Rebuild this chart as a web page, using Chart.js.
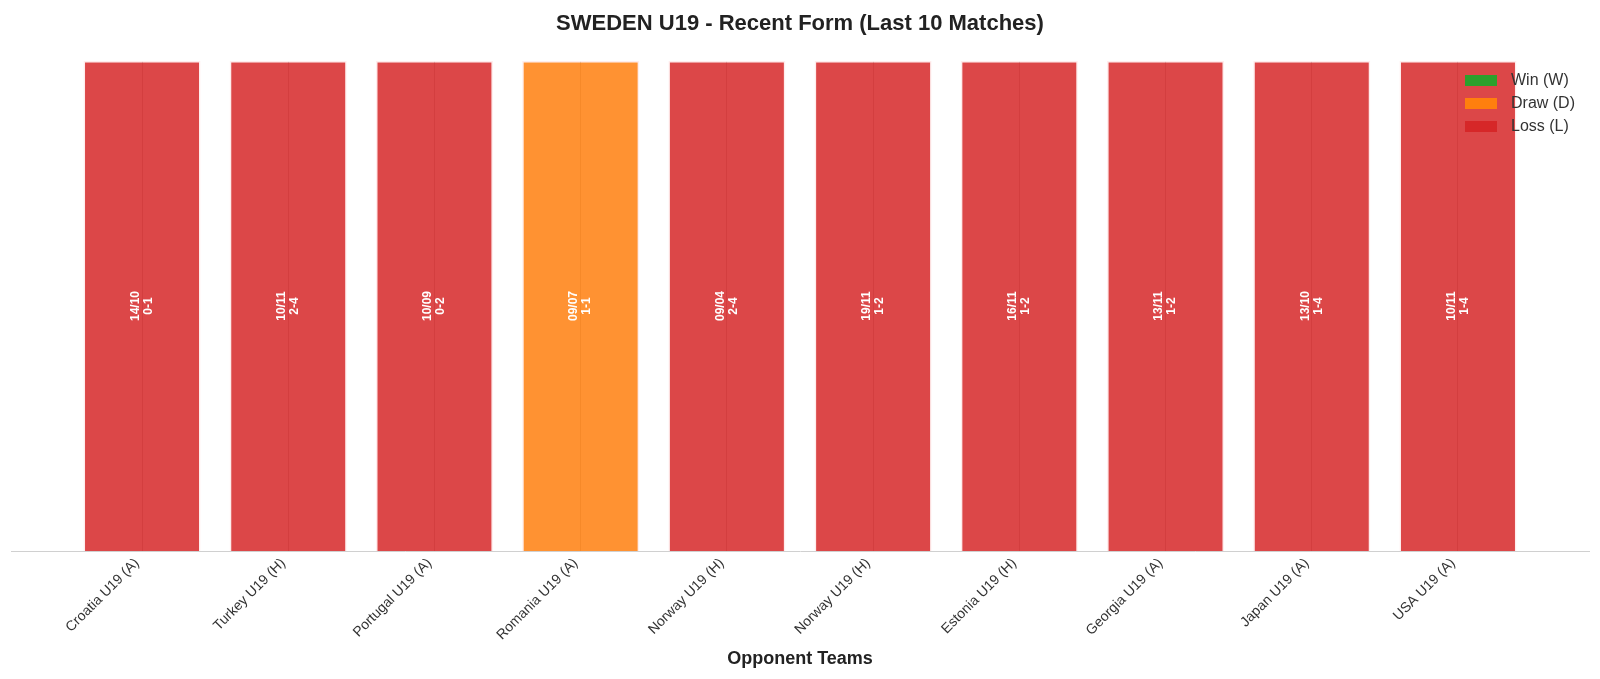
<!DOCTYPE html>
<html>
<head>
<meta charset="utf-8">
<script src="https://cdn.jsdelivr.net/npm/chart.js@4.4.1/dist/chart.umd.min.js"></script>
<style>
  html, body { margin: 0; padding: 0; background: #fff; overflow: hidden; }
  canvas { display: block; }
</style>
</head>
<body>
<canvas id="form-chart" width="1600" height="679"></canvas>
<script>
// Last 10 matches
const opponents = ['Croatia U19 (A)', 'Turkey U19 (H)', 'Portugal U19 (A)', 'Romania U19 (A)', 'Norway U19 (H)',
                   'Norway U19 (H)', 'Estonia U19 (H)', 'Georgia U19 (A)', 'Japan U19 (A)', 'USA U19 (A)'];
const matchDates = ['14/10', '10/11', '10/09', '09/07', '09/04', '19/11', '16/11', '13/11', '13/10', '10/11'];
const scores = ['0-1', '2-4', '0-2', '1-1', '2-4', '1-2', '1-2', '1-2', '1-4', '1-4'];
const results = ['L', 'L', 'L', 'D', 'L', 'L', 'L', 'L', 'L', 'L'];

const resultKeys = ['W', 'D', 'L'];
const resultLabels = ['Win (W)', 'Draw (D)', 'Loss (L)'];
const resultColors = ['44, 160, 44', '255, 127, 14', '214, 39, 40'];

Chart.defaults.font.family = '"Liberation Sans", Arial, sans-serif';
Chart.defaults.color = '#333';

// text inside each bar: date + score, rotated
const barLabels = {
    id: 'barLabels',
    afterDatasetsDraw(chart) {
        const ctx = chart.ctx;
        ctx.save();
        ctx.fillStyle = '#fff';
        ctx.font = 'bold 12px "Liberation Sans", Arial, sans-serif';
        ctx.textAlign = 'center';
        ctx.textBaseline = 'middle';
        chart.data.datasets.forEach((ds, di) => {
            const meta = chart.getDatasetMeta(di);
            meta.data.forEach((bar, i) => {
                if (ds.data[i].y == null) return;
                const cy = (bar.y + bar.base) / 2;
                ctx.save();
                ctx.translate(bar.x, cy);
                ctx.rotate(-Math.PI / 2);
                ctx.fillText(matchDates[i], 0, -6.5);
                ctx.fillText(scores[i], 0, 6.5);
                ctx.restore();
            });
        });
        ctx.restore();
    }
};

// legend inside the plot, top right
const innerLegend = {
    id: 'innerLegend',
    afterDraw(chart) {
        const ctx = chart.ctx;
        const x = chart.chartArea.right - 124;
        let y = chart.chartArea.top + 19;
        ctx.save();
        ctx.font = '16px "Liberation Sans", Arial, sans-serif';
        ctx.textBaseline = 'middle';
        resultLabels.forEach((lab, i) => {
            ctx.fillStyle = 'rgb(' + resultColors[i] + ')';
            ctx.fillRect(x, y - 5, 32, 11);
            ctx.fillStyle = '#333';
            ctx.fillText(lab, x + 46, y + 1);
            y += 23;
        });
        ctx.restore();
    }
};

const datasets = resultKeys.map((key, k) => ({
    label: resultLabels[k],
    data: results.map((r, i) => ({ x: i, y: r === key ? 1 : null })),
    backgroundColor: 'rgba(' + resultColors[k] + ', 0.85)',
    borderColor: 'rgba(255, 235, 235, 0.9)',
    borderWidth: 1.5,
    barPercentage: 0.8,
    categoryPercentage: 1
}));

new Chart(document.getElementById('form-chart'), {
    type: 'bar',
    data: { datasets },
    plugins: [barLabels, innerLegend],
    options: {
        responsive: false,
        animation: false,
        devicePixelRatio: 1,
        layout: { padding: { left: 11, right: 11, bottom: 5 } },
        plugins: {
            legend: { display: false },
            tooltip: { enabled: false },
            title: {
                display: true,
                text: 'SWEDEN U19 - Recent Form (Last 10 Matches)',
                color: '#222',
                font: { size: 22, weight: 'bold' },
                padding: { top: 10.5, bottom: 24.1 }
            }
        },
        scales: {
            x: {
                type: 'linear',
                stacked: true,
                offset: false,
                min: -0.896,
                max: 9.896,
                afterBuildTicks: (scale) => {
                    scale.ticks = opponents.map((_, i) => ({ value: i }));
                },
                ticks: {
                    autoSkip: false,
                    minRotation: 45,
                    maxRotation: 45,
                    padding: 4,
                    labelOffset: -5,
                    color: '#333',
                    font: { size: 14 },
                    callback: (v) => opponents[v]
                },
                grid: { color: '#c4c4c4', drawTicks: false, offset: false },
                border: { color: '#d0d0d0', width: 1 },
                title: {
                    display: true,
                    text: 'Opponent Teams',
                    color: '#222',
                    font: { size: 18, weight: 'bold' },
                    padding: { top: 1 }
                }
            },
            y: {
                stacked: true,
                display: false,
                min: 0,
                max: 1
            }
        }
    }
});
</script>
</body>
</html>
